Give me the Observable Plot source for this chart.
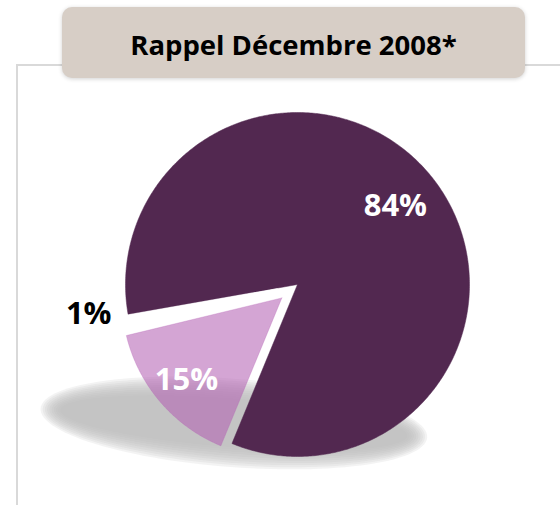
<!DOCTYPE html>
<html><head><meta charset="utf-8">
<script src="https://cdn.jsdelivr.net/npm/d3@7"></script>
<script src="https://cdn.jsdelivr.net/npm/@observablehq/plot@0.6"></script>
<style>
body{margin:0;background:#fff;}
#wrap{position:relative;width:560px;height:505px;overflow:hidden;}
#frame{position:absolute;left:16px;top:64px;width:560px;height:460px;border-left:2px solid #d9d9d9;border-top:2px solid #d9d9d9;}
#chart{position:absolute;left:0;top:0;}
#title{position:absolute;left:62px;top:7px;width:463px;height:71px;box-sizing:border-box;padding-top:3px;background:#d7cec6;border-radius:10px;box-shadow:0 1px 4px rgba(0,0,0,0.18);display:flex;align-items:center;justify-content:center;font-family:"Open Sans",sans-serif;font-weight:700;font-size:27.5px;color:#000;}
</style></head><body>
<div id="wrap"><div id="frame"></div><div id="chart"></div><div id="title">Rappel Décembre 2008*</div></div>
<script>
const labels = ["84%", "15%", "1%"];
const values = [84, 15, 1];
const colors = ["#522850", "#b25eb2", "#ffffff"];
const opacities = [1, 0.56, 1];
const labelColors = ["#ffffff", "#ffffff", "#000000"];

const rad = d => d * Math.PI / 180;
const arcs = d3.pie().sort(null).startAngle(rad(260)).endAngle(rad(620))(values);
const explode = [0, 0.12, 0.12];
const radius = [1, 0.93, 0.93];

const slicePts = [];
const labelData = [];
arcs.forEach((p, i) => {
  const mid = (p.startAngle + p.endAngle) / 2;
  const ox = explode[i] * Math.sin(mid), oy = explode[i] * Math.cos(mid);
  const R = radius[i];
  slicePts.push({k: i, x: ox, y: oy});
  const n = Math.max(4, Math.ceil((p.endAngle - p.startAngle) / 0.01));
  for (let j = 0; j <= n; j++) {
    const a = p.startAngle + (p.endAngle - p.startAngle) * j / n;
    slicePts.push({k: i, x: ox + R * Math.sin(a), y: oy + R * Math.cos(a)});
  }
  slicePts.push({k: i, x: ox, y: oy});
  const outside = values[i] < 5;
  const r = outside ? 1.12 : 0.73;
  labelData.push({x: ox + r * Math.sin(mid), y: oy + r * Math.cos(mid), text: labels[i], c: labelColors[i], outside});
});

// soft floor shadow of the pie (decorative): stacked translucent ellipses
const sh = [];
const scx = -0.37, scy = -0.805, srx = 1.07, sry = 0.2, th = rad(-4.3);
for (let L = 0; L < 10; L++) {
  const d = (-10 + L * 2.2) / 172;
  for (let j = 0; j <= 120; j++) {
    const t = 2 * Math.PI * j / 120;
    const ex = (srx + d) * Math.cos(t), ey = (sry + d) * Math.sin(t);
    sh.push({L, x: scx + ex * Math.cos(th) - ey * Math.sin(th), y: scy + ex * Math.sin(th) + ey * Math.cos(th)});
  }
}

const chart = Plot.plot({
  width: 560, height: 505,
  margin: 0,
  x: {domain: [-1, 1], range: [125, 469], axis: null},
  y: {domain: [-1, 1], range: [456, 112], axis: null},
  opacity: {type: "identity"},
  style: {background: "transparent", overflow: "visible"},
  marks: [
    Plot.line(sh, {x: "x", y: "y", z: "L", fill: "#bfbfbf", stroke: "#bfbfbf", strokeWidth: 0.01, fillOpacity: 0.18, strokeOpacity: 0}),
    Plot.line(slicePts, {x: "x", y: "y", z: "k", fill: d => colors[d.k], stroke: d => colors[d.k],
      fillOpacity: d => opacities[d.k], strokeOpacity: d => opacities[d.k], strokeWidth: 0.5}),
    Plot.text(labelData.filter(d => !d.outside), {x: "x", y: "y", text: "text", fill: "c", fontFamily: "Open Sans", fontWeight: 700, fontSize: 31}),
    Plot.text(labelData.filter(d => d.outside), {x: "x", y: "y", text: "text", fill: "c", dy: -14, fontFamily: "Open Sans", fontWeight: 700, fontSize: 31})
  ]
});
document.getElementById("chart").appendChild(chart);
</script>
</body></html>
